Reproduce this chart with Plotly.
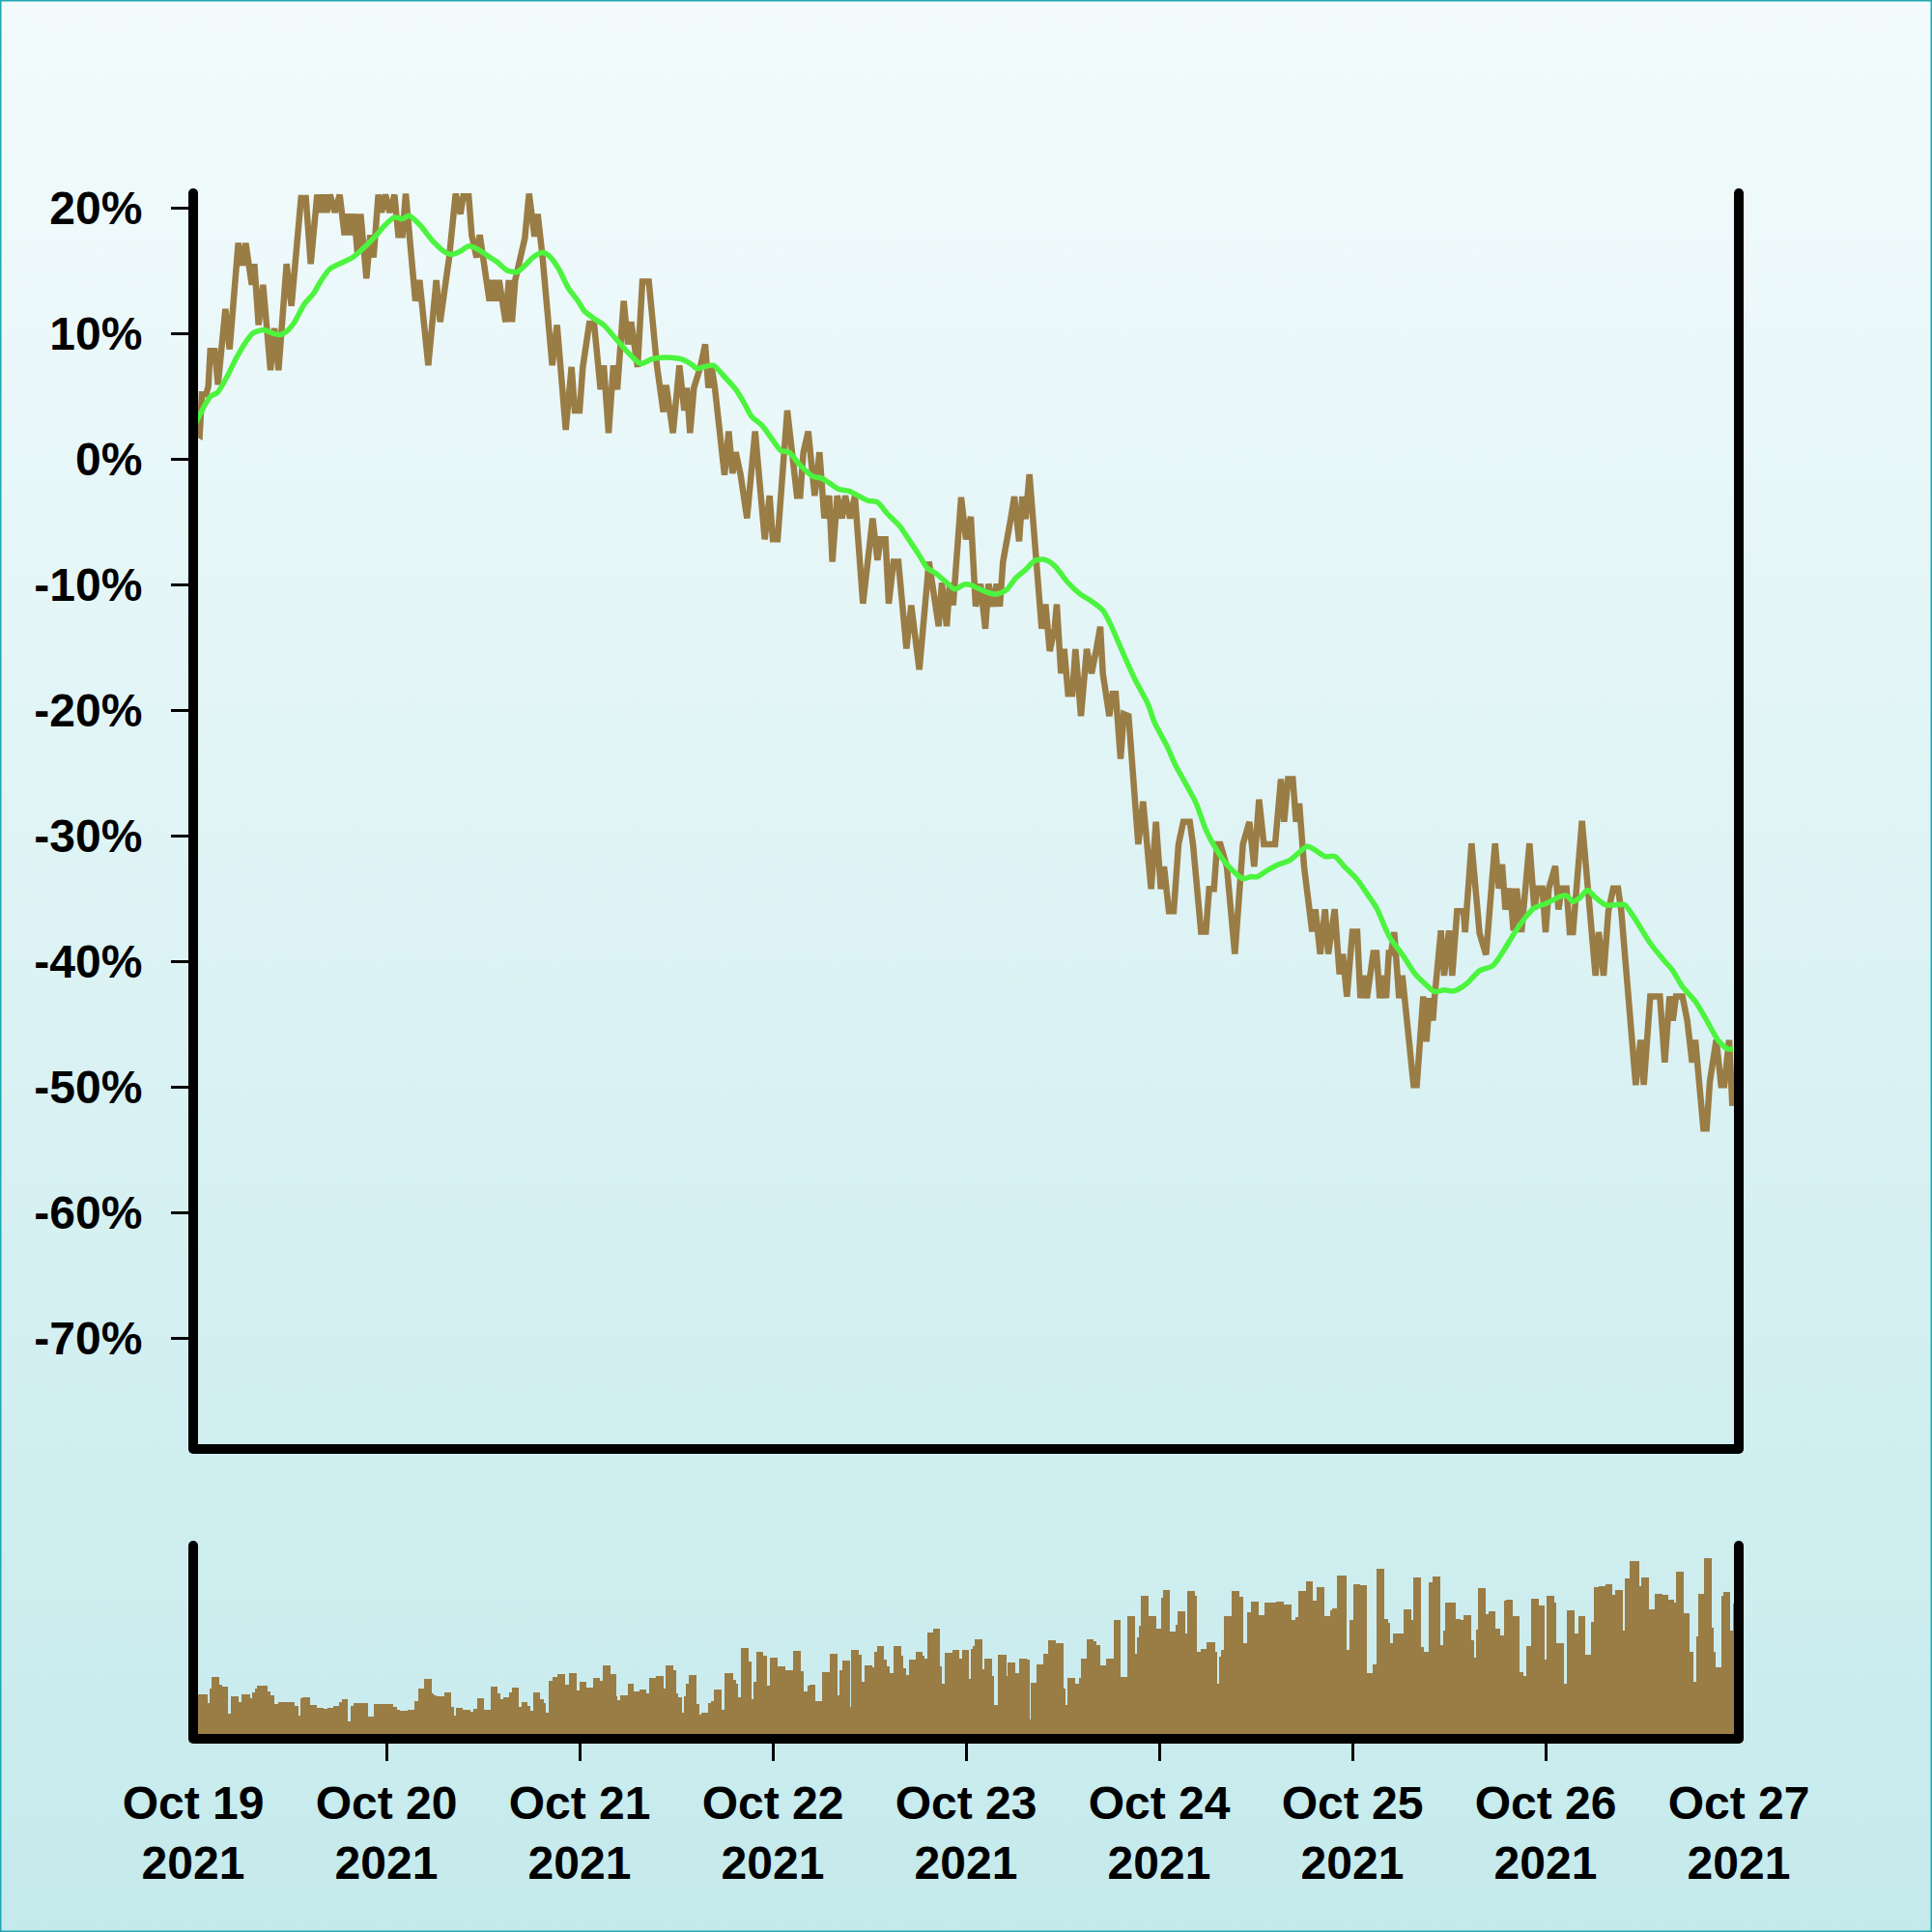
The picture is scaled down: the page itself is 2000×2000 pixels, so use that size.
import base64
import pandas as pd
import plotly.graph_objects as go

# ---------------- data ----------------
START = "2021-10-19 00:00"
END = "2021-10-27 00:00"

# price change vs. start, % ; times are hours after START
price_hours = [0, 0.8, 1.08, 1.6, 1.88, 2.12, 2.68, 3.08, 4.0, 4.52, 5.6, 6.12, 6.52, 6.92, 7.28, 7.6, 8.12, 8.68, 9.6, 10.08,
               10.6, 11.6, 12.2, 13.4, 14.0, 14.6, 15.4, 15.8, 16.2, 16.6, 17.0, 17.6, 18.2, 18.8, 19.2, 19.6, 20.0, 20.4, 20.8, 21.52,
               22.0, 22.4, 23.0, 23.4, 23.88, 24.4, 25.0, 25.48, 26.0, 26.4, 27.4, 27.6, 28.12, 29.2, 30.2, 30.68, 31.4, 31.8, 32.6, 33.2,
               33.6, 34.2, 34.6, 35.2, 35.6, 36.0, 36.8, 37.2, 37.6, 38.0, 38.8, 39.2, 39.6, 40.0, 40.6, 41.2, 41.72, 42.4, 42.8, 43.2,
               43.4, 44.6, 45.2, 46.28, 47.0, 47.4, 48.0, 48.4,
               49.2, 49.8, 50.6, 51.0, 51.6, 52.2, 52.68, 53.48, 54.0, 54.4, 54.8, 55.2, 55.8, 56.6, 57.6, 58.0, 58.4, 58.6, 58.8, 59.6,
               60.4, 61.0, 61.32, 61.72, 62.2, 63.0, 63.6, 64.0, 64.4, 64.8, 66.0, 66.52, 67.0, 67.4, 68.0, 68.8, 69.8, 71.0, 71.6, 72.0,
               72.6, 73.8, 75.0, 75.4, 75.8, 76.4, 77.2, 77.8, 78.4, 79.0, 79.4, 80.0, 80.6, 81.0, 81.6, 82.2, 83.2, 84.4, 85.0, 85.4,
               86.0, 86.4, 87.0, 87.6, 88.6, 89.2, 89.6, 90.2, 91.4, 91.8, 92.6, 93.0, 93.6, 94.0, 94.4, 95.4, 96.0, 96.6,
               97.2, 97.8, 98.4, 98.8, 99.4, 99.8, 100.2, 100.6, 101.2, 101.6, 102.0, 102.6, 103.0, 103.4, 103.88, 105.4, 105.88, 106.4, 107.0, 107.28,
               107.8, 108.2, 108.68, 109.2, 109.6, 110.28, 111.0, 111.6, 112.2, 112.68, 113.0, 113.8, 114.2, 114.6, 115.2, 115.6, 116.2, 117.4, 118.0, 118.4,
               119.0, 119.6, 120.2, 120.6, 121.2, 121.8, 122.4, 123.0, 123.8, 124.2, 125.2, 125.8, 126.2, 126.8, 127.2, 127.6, 128.4, 129.4, 130.4, 131.2,
               131.8, 132.4, 133.0, 134.4, 135.12, 135.52, 136.0, 136.6, 137.0, 137.4, 138.0, 139.0, 139.4, 140.0, 140.6, 141.0, 141.8, 142.4, 142.8, 143.32,
               144.0, 144.6,
               145.0, 145.4, 145.8, 146.2, 146.6, 147.0, 147.4, 147.8, 148.2, 148.52, 148.8, 149.2, 149.8, 150.2, 151.6, 152.0, 152.8, 153.2, 153.6, 154.0,
               154.2, 155.0, 155.4, 156.0, 156.4, 157.0, 157.8, 158.0, 158.8, 159.8, 160.6, 161.72, 162.2, 162.6, 163.0, 163.6, 164.0, 164.4, 165.0, 166.0,
               166.6, 167.0, 167.6, 168.0, 168.4, 169.2, 169.6, 170.0, 170.6, 171.0, 171.4, 172.52, 174.2, 174.6, 175.2, 175.8, 176.4, 177.0, 177.4, 179.2,
               179.8, 180.2, 181.0, 182.2, 182.8, 183.4, 183.8, 184.2, 185.0, 185.6, 186.2, 186.6, 187.6, 188.0, 188.4, 189.2, 189.8, 190.2, 190.8, 191.2]
price_pct = [2.23, 1.93, 5.18, 5.18, 5.82, 8.64, 8.64, 5.95, 11.98, 8.77, 17.23, 15.44, 17.23, 15.44, 13.9, 15.57, 10.7, 13.9, 7.11, 10.44,
             7.11, 15.57, 12.23, 20.82, 20.82, 15.57, 21.08, 19.67, 21.08, 19.67, 21.08, 19.67, 21.08, 17.87, 19.54, 17.87, 19.54, 16.46, 19.54, 14.41,
             17.87, 16.08, 21.08, 19.67, 21.08, 19.67, 21.08, 17.87, 17.87, 21.16, 14.28, 12.62, 14.28, 7.49, 14.28, 10.95, 14.28, 16.08, 21.16, 19.54,
             21.16, 21.16, 17.87, 16.08, 17.87, 16.08, 12.62, 14.28, 12.62, 14.28, 10.95, 14.28, 10.95, 14.28, 15.95, 17.62, 21.16, 17.75, 19.54, 17.75,
             16.08, 7.49, 10.7, 2.36, 7.36, 3.9, 3.9, 7.36,
             10.82, 10.82, 5.57, 7.49, 2.11, 7.49, 5.57, 12.62, 9.16, 10.95, 9.16, 7.36, 14.16, 14.16, 7.49, 5.57, 3.77, 5.7, 5.7, 2.11,
             7.49, 3.9, 5.7, 2.11, 5.7, 7.36, 9.16, 5.7, 7.36, 5.7, -1.23, 2.23, -1.1, 0.57, -1.23, -4.69, 2.23, -6.36, -2.89, -6.36,
             -6.36, 3.9, -2.89, -2.89, 0.57, 2.23, -2.89, 0.57, -4.69, -2.89, -8.15, -2.89, -4.69, -2.89, -4.69, -2.89, -11.48, -4.69, -8.02, -6.36,
             -6.36, -11.48, -8.15, -8.15, -15.07, -11.61, -13.41, -16.74, -8.15, -9.82, -13.28, -9.82, -13.28, -9.82, -11.61, -3.02, -6.36, -4.56,
             -11.7, -9.92, -13.48, -9.92, -11.7, -9.92, -11.7, -8.14, -6.36, -4.58, -2.96, -6.52, -2.96, -4.74, -1.18, -13.48, -11.54, -15.26, -13.48, -11.54,
             -17.04, -15.1, -18.66, -18.66, -15.1, -20.44, -15.1, -17.04, -15.1, -13.32, -17.04, -20.44, -18.66, -18.66, -23.84, -20.28, -20.44, -30.64, -27.24, -30.64,
             -34.2, -28.86, -34.2, -32.42, -35.98, -35.98, -30.64, -28.86, -28.86, -30.64, -37.6, -37.6, -34.2, -34.2, -30.64, -30.64, -32.42, -39.38, -30.64, -28.86,
             -32.42, -27.08, -30.64, -30.64, -25.46, -28.86, -25.46, -25.46, -28.86, -27.4, -32.42, -37.6, -35.82, -39.38, -35.82, -39.38, -35.82, -41.0, -39.38, -42.78,
             -37.6, -37.6,
             -42.89, -41.1, -42.89, -41.1, -39.3, -39.3, -42.89, -41.1, -42.89, -39.3, -39.3, -37.64, -42.89, -41.1, -49.81, -49.81, -42.76, -46.35, -42.89, -44.69,
             -42.89, -37.51, -41.1, -37.51, -41.1, -35.97, -35.97, -37.64, -30.58, -37.76, -39.43, -30.58, -34.17, -32.25, -35.84, -34.17, -37.51, -34.17, -37.64, -30.58,
             -35.84, -34.17, -34.17, -37.64, -34.17, -32.38, -35.84, -34.17, -34.17, -37.64, -37.64, -28.79, -41.1, -37.64, -41.1, -35.97, -34.17, -34.17, -35.97, -49.81,
             -46.23, -49.81, -42.76, -42.76, -48.02, -42.76, -44.69, -42.76, -42.76, -44.69, -48.02, -46.23, -53.28, -53.28, -49.56, -46.23, -49.81, -49.81, -46.23, -51.48]

# moving average of the price change, %
ma_hours = [0, 1.0, 1.4, 2.2, 3.0, 4.2, 5.4, 6.6, 7.4, 8.8, 9.8, 10.8, 11.8, 12.6, 13.8, 15.0, 15.8, 17.0, 18.6, 19.8,
            21.2, 22.6, 23.8, 25.0, 26.0, 26.8, 28.2, 29.8, 31.4, 32.2, 33.2, 34.2, 35.4, 36.6, 37.8, 39.0, 40.2, 41.2, 42.2, 43.4,
            44.2, 45.4, 46.6, 47.8, 48.6,
            49.8, 51.0, 52.6, 54.2, 55.6, 57.0, 58.6, 60.6, 61.8, 62.6, 63.4, 64.6, 65.8, 67.4, 68.4, 69.4, 70.6, 71.8, 73.0, 74.0,
            75.4, 77.0, 78.0, 79.0, 80.2, 81.4, 82.6, 83.8, 85.0, 86.2, 87.8, 89.0, 90.2, 91.2, 92.2, 93.4, 94.6, 95.8, 96.6,
            97.4, 98.6, 99.8, 101.0, 102.2, 103.4, 104.6, 105.8, 107.0, 108.6, 110.2, 111.4, 113.0, 114.2, 115.4, 117.0, 118.6, 119.4, 121.0, 122.0,
            123.4, 124.6, 125.8, 127.0, 128.2, 129.4, 130.4, 131.4, 132.2, 133.4, 134.8, 136.2, 137.4, 138.4, 139.4, 140.6, 141.8, 143.0, 144.6,
            145.8, 147.0, 148.6, 150.2, 151.8, 153.0, 154.2, 155.4, 156.6, 158.2, 159.8, 161.4, 162.6, 164.2, 165.8, 166.6, 168.2, 169.8, 170.6, 171.4,
            172.2, 173.2, 174.2, 175.4, 177.0, 177.8, 179.0, 181.0, 182.6, 183.8, 185.0, 186.6, 187.8, 189.4, 190.6, 191.3]
ma_pct = [2.49, 3.77, 4.28, 5.05, 5.31, 6.59, 8.13, 9.41, 10.05, 10.31, 10.05, 9.93, 10.31, 10.95, 12.36, 13.26, 14.16, 15.18, 15.7, 16.08,
          16.85, 17.75, 18.64, 19.28, 19.16, 19.41, 18.64, 17.36, 16.46, 16.34, 16.59, 16.98, 16.72, 16.21, 15.7, 15.05, 14.93, 15.44, 16.08, 16.46,
          16.21, 15.18, 13.64, 12.62, 11.8,
          11.21, 10.7, 9.54, 8.39, 7.62, 8.0, 8.13, 8.0, 7.62, 7.23, 7.36, 7.49, 6.72, 5.57, 4.54, 3.39, 2.75, 1.72, 0.7, 0.57,
          -0.46, -1.36, -1.48, -1.87, -2.38, -2.51, -2.89, -3.28, -3.41, -4.3, -5.33, -6.48, -7.64, -8.66, -9.05, -9.69, -10.33, -9.95, -10.0,
          -10.24, -10.57, -10.73, -10.4, -9.43, -8.79, -8.04, -7.98, -8.46, -9.76, -10.73, -11.21, -12.02, -13.48, -15.26, -17.53, -19.47, -20.93, -22.87, -24.32,
          -25.94, -27.4, -29.5, -30.96, -32.09, -32.9, -33.39, -33.23, -33.23, -32.74, -32.26, -31.93, -31.29, -30.8, -31.12, -31.61, -31.61, -32.42, -33.45,
          -34.56, -35.71, -38.02, -39.43, -40.97, -41.74, -42.38, -42.25, -42.33, -41.74, -40.71, -40.33, -39.3, -37.64, -36.23, -35.71, -35.33, -34.81, -34.74, -35.2,
          -34.94, -34.3, -34.89, -35.46, -35.46, -35.46, -36.48, -38.53, -39.81, -40.71, -41.99, -43.15, -44.43, -46.23, -46.94, -46.94]

# volume (arbitrary units); each value holds from its start hour to the next start hour
vol_hours = [0, 1.76, 2.0, 2.25, 3.24, 3.62, 4.36, 4.67, 5.6, 6.03, 7.03, 7.34, 7.65, 7.89, 9.2, 9.63, 10.13, 10.56, 12.61, 13.04,
             13.35, 13.54, 14.47, 15.4, 16.14, 16.64, 17.38, 18.12, 18.43, 19.24, 19.55, 19.86, 20.79, 21.72, 22.46, 24.82, 25.32, 25.63, 26.68, 27.49,
             27.92, 28.66, 29.66, 29.9, 30.21, 31.14, 32.07, 32.38, 32.69, 33.5, 34.43, 34.74, 35.24, 36.1, 36.91, 37.84, 38.15, 38.46, 39.27, 39.58,
             40.44, 40.75, 41.56, 41.93, 42.18, 43.11, 43.54, 43.85, 44.16, 44.66, 45.28, 46.21, 46.71, 47.64, 47.95, 48.88, 49.62, 50.55, 50.86, 51.79,
             52.53, 52.72, 53.03, 53.96, 54.77, 55.39, 56.32, 56.63, 57.49, 58.42, 58.73, 59.66, 59.97, 60.28, 60.66, 60.9, 61.21, 61.59, 62.52, 62.83,
             63.14, 64.0, 64.31, 64.62, 65.62, 66.05, 67.1, 67.41, 67.72, 68.03, 69.03, 69.34, 69.65, 69.96, 70.82, 71.32, 71.63, 72.56, 73.61, 74.54,
             75.47, 75.78, 76.28, 76.59, 77.33, 78.14, 79.07, 80.0, 80.31, 80.62, 81.55, 81.74, 82.67, 82.98, 83.41, 84.34, 84.65, 84.96, 85.77, 86.2,
             86.51, 87.01, 87.94, 88.25, 88.56, 88.87, 89.73, 90.54, 90.85, 91.16, 91.9, 92.71, 93.02, 93.33, 94.26, 95.19,
             95.5, 96.33, 96.58, 96.83, 97.07, 98.07, 98.25, 99.24, 99.49, 99.99, 100.98, 101.17, 102.1, 102.59, 103.58, 103.89, 104.08, 104.7, 105.63, 106.19,
             107.18, 108.11, 108.36, 108.61, 109.54, 110.03, 110.28, 111.02, 111.89, 112.14, 112.64, 113.38, 114.37, 115.24, 116.05, 116.98, 117.22, 117.47, 117.72, 118.65,
             119.58, 120.2, 120.45, 121.32, 122.06, 122.31, 123.18, 123.49, 124.42, 124.66, 125.16, 125.9, 126.9, 127.14, 127.39, 127.64, 128.07, 129.0, 129.99, 130.43,
             130.93, 131.42, 132.35, 133.1, 134.52, 135.51, 136.44, 136.94, 137.25, 138.18, 139.11, 139.54, 140.54, 141.22, 141.53, 142.02, 143.33, 143.64, 144.13, 145.0,
             145.81, 146.55, 146.98, 147.98, 148.47, 148.72, 149.09, 150.33, 151.32, 151.57, 152.5, 152.87, 153.49, 153.99, 154.92, 155.23, 155.48, 156.78, 157.4, 157.83,
             158.76, 159.07, 159.32, 159.63, 160.56, 160.87, 161.8, 162.36, 162.86, 163.1, 163.97, 164.78, 165.27, 165.58, 166.2, 167.2, 167.82, 168.13, 169.12, 169.37,
             170.3, 170.61, 171.54, 172.03, 172.96, 173.64, 173.95, 174.64, 175.38, 176.31, 176.62, 177.55, 177.8, 178.48, 179.6, 179.91, 180.84, 181.58, 182.51, 183.25,
             183.99, 184.25, 185.11, 185.92, 186.35, 186.66, 186.91, 187.66, 188.59, 188.83, 189.08, 189.83, 190.07, 190.88, 191.25]
vol_values = [46, 37, 52, 64, 56, 54, 26, 44, 38, 46, 42, 48, 52, 55, 49, 45, 36, 38, 34, 24,
              42, 43, 35, 32, 31, 32, 34, 38, 41, 18, 34, 37, 37, 23, 36, 33, 30, 29, 30, 39,
              52, 62, 47, 45, 44, 48, 33, 24, 32, 30, 28, 31, 42, 30, 54, 47, 41, 43, 48, 53,
              33, 38, 34, 29, 48, 41, 37, 27, 60, 64, 67, 56, 68, 50, 59, 53, 63, 60, 76, 67,
              44, 40, 45, 57, 49, 51, 47, 63, 65, 52, 76, 71, 47, 43, 27, 44, 57, 66, 36, 25,
              27, 37, 39, 51, 30, 68, 61, 57, 43, 94, 80, 41, 59, 90, 86, 55, 84, 75, 71, 91,
              70, 49, 55, 56, 39, 69, 88, 45, 71, 81, 33, 92, 87, 59, 76, 74, 90, 96, 82, 75,
              68, 96, 86, 73, 66, 82, 90, 86, 83, 110, 114, 75, 57, 89, 92, 83,
              92, 62, 93, 96, 103, 72, 83, 65, 35, 87, 65, 79, 68, 83, 82, 20, 58, 77, 88, 102,
              99, 52, 35, 63, 57, 63, 83, 103, 101, 97, 76, 83, 123, 64, 127, 88, 105, 117, 148, 127,
              114, 146, 154, 111, 118, 132, 109, 153, 148, 90, 93, 100, 90, 57, 85, 92, 127, 153, 147, 99,
              131, 142, 128, 141, 142, 139, 123, 126, 153, 163, 143, 157, 127, 133, 135, 169, 92, 123, 160, 159,
              68, 77, 176, 124, 120, 99, 109, 134, 123, 167, 95, 90, 162, 168, 97, 112, 141, 124, 123, 128,
              102, 84, 113, 156, 129, 132, 114, 107, 143, 144, 127, 69, 65, 96, 145, 138, 82, 148, 141, 99,
              57, 133, 109, 127, 87, 121, 157, 158, 160, 149, 154, 112, 166, 184, 158, 167, 134, 150, 149, 144,
              141, 173, 130, 90, 59, 106, 150, 187, 115, 90, 74, 148, 152, 112, 140]

y_tick_vals = [20, 10, 0, -10, -20, -30, -40, -50, -60, -70]
y_tick_text = ["20%", "10%", "0%", "-10%", "-20%", "-30%", "-40%", "-50%", "-60%", "-70%"]

# date labels on every day; tick marks only on the inner days (the ends sit under the frame corners)
x_label_days = pd.date_range(START, END, freq="D")
x_tick_days = x_label_days[1:-1]

# ---------------- build ----------------
BROWN = "#9a7c45"
GREEN = "#4cf43e"
FONT = "Liberation Sans, Arial, Helvetica, sans-serif"

X_DOM = [0.1, 0.9]
MAIN_DOM = [0.25, 0.9]
VOL_DOM = [0.1, 0.2]

t0 = pd.Timestamp(START)
t_end = pd.Timestamp(END)
price_t = t0 + pd.to_timedelta(price_hours, unit="h")
ma_t = t0 + pd.to_timedelta(ma_hours, unit="h")
vol_t = t0 + pd.to_timedelta(vol_hours, unit="h")
total_h = (t_end - t0) / pd.Timedelta(hours=1)
vol_w = [((vol_hours[i + 1] if i + 1 < len(vol_hours) else total_h) - vol_hours[i]) * 3600 * 1000
         for i in range(len(vol_hours))]

fig = go.Figure()
fig.add_trace(go.Scatter(x=price_t, y=price_pct, mode="lines",
                         line=dict(color=BROWN, width=6.5), xaxis="x", yaxis="y"))
fig.add_trace(go.Scatter(x=ma_t, y=ma_pct, mode="lines",
                         line=dict(color=GREEN, width=5.5, shape="spline", smoothing=0.7),
                         xaxis="x", yaxis="y"))
fig.add_trace(go.Bar(x=vol_t, y=vol_values, width=vol_w, offset=0,
                     marker=dict(color=BROWN, line=dict(width=0)), xaxis="x2", yaxis="y2"))
# invisible carrier so the label axis (x3) is drawn
fig.add_trace(go.Scatter(x=[t0, t_end], y=[0, 0], mode="lines", line=dict(width=0),
                         opacity=0, showlegend=False, xaxis="x3", yaxis="y2"))

svg = ('<svg xmlns="http://www.w3.org/2000/svg" width="100" height="100" preserveAspectRatio="none">'
       '<defs><linearGradient id="g" x1="0" y1="0" x2="0" y2="1">'
       '<stop offset="0" stop-color="#f3fbfc"/><stop offset="1" stop-color="#c5eaec"/>'
       '</linearGradient></defs><rect width="100" height="100" fill="url(#g)"/></svg>')
bg_src = "data:image/svg+xml;base64," + base64.b64encode(svg.encode()).decode()

# frame lines (left, right, bottom) centred on the plot-area edges, with round ends/corners
frame = []
for yb, yt in (MAIN_DOM, VOL_DOM):
    xl, xr = X_DOM
    for x0, y0, x1, y1 in ((xl, yb, xl, yt), (xr, yb, xr, yt), (xl, yb, xr, yb)):
        frame.append(dict(type="line", xref="paper", yref="paper", x0=x0, y0=y0, x1=x1, y1=y1,
                          line=dict(color="black", width=10), layer="above"))
    for xa in (xl, xr):
        for ya in (yb, yt):
            frame.append(dict(type="circle", xref="paper", yref="paper",
                              xsizemode="pixel", ysizemode="pixel", xanchor=xa, yanchor=ya,
                              x0=-5, x1=5, y0=-5, y1=5,
                              fillcolor="black", line=dict(width=0), layer="above"))

axis_common = dict(showgrid=False, zeroline=False, showline=False, automargin=False)
tickfont = dict(family=FONT, size=48, color="black", weight="bold")

fig.update_layout(
    width=2000, height=2000,
    margin=dict(l=0, r=0, t=0, b=0, pad=0, autoexpand=False),
    paper_bgcolor="#dcf3f5",
    plot_bgcolor="rgba(0,0,0,0)",
    showlegend=False,
    hovermode=False,
    bargap=0,
    font=dict(family=FONT, size=48, color="black"),
    images=[dict(source=bg_src, xref="paper", yref="paper", x=0, y=1, sizex=1, sizey=1,
                 sizing="stretch", xanchor="left", yanchor="top", layer="below")],
    shapes=[dict(type="rect", xref="paper", yref="paper", x0=0, y0=0, x1=1, y1=1,
                 line=dict(color="#1fa7b2", width=3), layer="above")] + frame,
    xaxis=dict(domain=X_DOM, anchor="y", type="date", range=[t0, t_end],
               showticklabels=False, ticks="", matches="x2", **axis_common),
    yaxis=dict(domain=MAIN_DOM, anchor="x", range=[-78.8, 21.2],
               tickmode="array", tickvals=y_tick_vals, ticktext=y_tick_text,
               ticks="outside", ticklen=22, tickwidth=3, tickcolor="black",
               ticklabelstandoff=20, tickfont=tickfont, **axis_common),
    xaxis2=dict(domain=X_DOM, anchor="y2", type="date", range=[t0, t_end],
                tickmode="array", tickvals=x_tick_days, showticklabels=False,
                ticks="outside", ticklen=22, tickwidth=3, tickcolor="black",
                **axis_common),
    xaxis3=dict(domain=X_DOM, anchor="y2", overlaying="x2", side="bottom", type="date",
                range=[t0, t_end], tickmode="array", tickvals=x_label_days,
                tickformat="%b %d<br>%Y", ticks="", ticklabelstandoff=34,
                tickfont=tickfont, **axis_common),
    yaxis2=dict(domain=VOL_DOM, anchor="x2", range=[0, 200],
                showticklabels=False, ticks="", **axis_common),
)

fig.write_html("out.html", config={"displayModeBar": False},
               post_script="document.body.style.margin='0';")
